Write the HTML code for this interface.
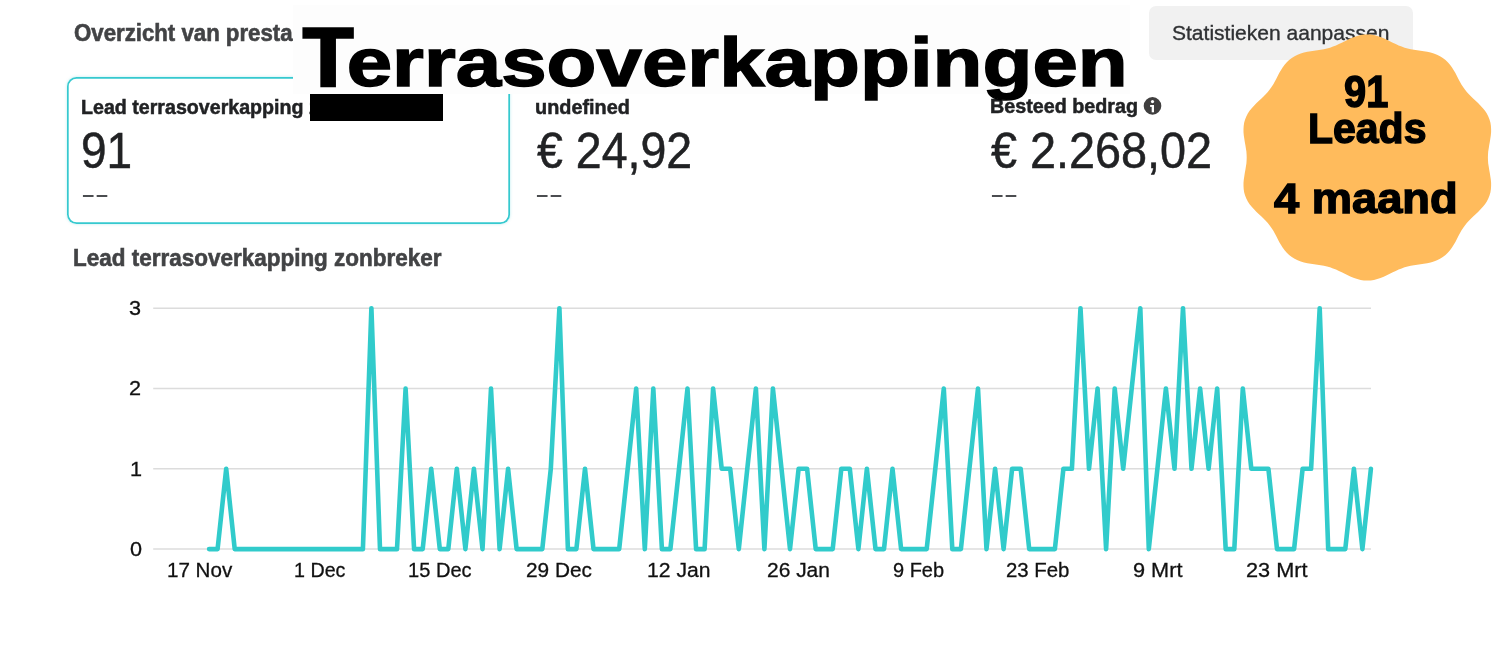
<!DOCTYPE html>
<html lang="nl">
<head>
<meta charset="utf-8">
<title>Terrasoverkappingen – Overzicht van prestaties</title>
<style>
*{margin:0;padding:0;box-sizing:border-box}
html,body{width:1500px;height:660px;background:#fff;overflow:hidden}
body{font-family:"Liberation Sans",sans-serif;position:relative}
.tx,.big{position:absolute;white-space:nowrap;line-height:1;transform-origin:0 0;display:block}
.card{position:absolute;left:67.3px;top:77.4px;width:442.6px;height:147px;border-radius:9.5px;box-shadow:inset 0 0 0 1.7px #36c9cf,0 0 3px rgba(47,199,205,.35)}
.btn{position:absolute;left:1149px;top:6px;width:264px;height:54px;border-radius:7px;background:#f1f1f1}
.whitebox{position:absolute;left:292.5px;top:5.2px;width:837.5px;height:88.5px;background:#fdfdfd}
.bar{position:absolute;left:310px;top:94px;width:133.3px;height:26.9px;background:#000}
.dash{color:#4b4d50;letter-spacing:-0.44px}
svg{position:absolute;left:0;top:0}
.big{font-weight:700;color:#000}
.title::first-letter{font-family:"DejaVu Sans Mono","Liberation Sans",sans-serif;font-size:1.185em;line-height:0;letter-spacing:-0.11em}
</style>
</head>
<body>
<main>
<header>
<div class="tx" id="t_over" style="left:74.00px;top:20.98px;font-size:24.0px;font-weight:700;color:#424345;-webkit-text-stroke:0.6px #424345;transform:scaleX(0.9257);">Overzicht van presta</div>
<div class="btn"></div>
<div class="tx" id="t_btn" style="left:1172.00px;top:23.49px;font-size:20.8px;font-weight:400;color:#2f3133;-webkit-text-stroke:0.35px #2f3133;transform:scaleX(1.0107);">Statistieken aanpassen</div>
</header>
<section class="metrics">
<div class="card"></div>
<div class="tx" id="t_lab1" style="left:81.00px;top:96.53px;font-size:20.4px;font-weight:700;color:#212224;-webkit-text-stroke:0.5px #212224;transform:scaleX(0.9625);">Lead terrasoverkapping zonbreker</div>
<div class="tx" id="t_val1" style="left:81.20px;top:126.15px;font-size:49.2px;font-weight:400;color:#212224;-webkit-text-stroke:0.5px #212224;transform:scaleX(0.9350);">91</div>
<div class="tx dash" style="left:80.57px;top:182.28px;font-size:25.0px;transform:scaleX(1.737)">--</div>
<div class="tx" id="t_lab2" style="left:535.00px;top:96.53px;font-size:20.4px;font-weight:700;color:#212224;-webkit-text-stroke:0.5px #212224;transform:scaleX(0.9735);">undefined</div>
<div class="tx" id="t_val2" style="left:537.00px;top:126.15px;font-size:49.2px;font-weight:400;color:#212224;-webkit-text-stroke:0.5px #212224;transform:scaleX(0.9456);">€ 24,92</div>
<div class="tx dash" style="left:534.87px;top:181.88px;font-size:25.0px;transform:scaleX(1.737)">--</div>
<div class="tx" id="t_lab3" style="left:990.00px;top:96.43px;font-size:20.4px;font-weight:700;color:#212224;-webkit-text-stroke:0.5px #212224;transform:scaleX(0.9677);">Besteed bedrag</div>
<svg class="info" width="1500" height="660" viewBox="0 0 1500 660"><circle cx="1152.5" cy="105.9" r="8.8" fill="#403f3f"/><circle cx="1152.5" cy="101.6" r="1.6" fill="#fff"/><rect x="1151.7" y="105" width="2.3" height="7.3" fill="#fff"/><rect x="1150.1" y="105" width="2" height="1.9" fill="#fff"/></svg>
<div class="tx" id="t_val3" style="left:991.00px;top:126.05px;font-size:49.2px;font-weight:400;color:#212224;-webkit-text-stroke:0.5px #212224;transform:scaleX(0.9508);">€ 2.268,02</div>
<div class="tx dash" style="left:989.87px;top:181.78px;font-size:25.0px;transform:scaleX(1.737)">--</div>
</section>
<section class="chart">
<div class="tx" id="t_chart" style="left:73.00px;top:245.65px;font-size:23.8px;font-weight:700;color:#424345;-webkit-text-stroke:0.6px #424345;transform:scaleX(0.9446);">Lead terrasoverkapping zonbreker</div>
<svg width="1500" height="660" viewBox="0 0 1500 660">
<line x1="153.2" x2="1371" y1="549.1" y2="549.1" stroke="#dcdcdc" stroke-width="1.5"/>
<line x1="153.2" x2="1371" y1="468.8" y2="468.8" stroke="#dcdcdc" stroke-width="1.5"/>
<line x1="153.2" x2="1371" y1="388.5" y2="388.5" stroke="#dcdcdc" stroke-width="1.5"/>
<line x1="153.2" x2="1371" y1="308.2" y2="308.2" stroke="#dcdcdc" stroke-width="1.5"/>
<polyline points="209.1,549.1 217.6,549.1 226.2,468.8 234.7,549.1 243.3,549.1 251.8,549.1 260.4,549.1 268.9,549.1 277.4,549.1 286.0,549.1 294.5,549.1 303.1,549.1 311.6,549.1 320.2,549.1 328.7,549.1 337.2,549.1 345.8,549.1 354.3,549.1 362.9,549.1 371.4,308.2 380.0,549.1 388.5,549.1 397.0,549.1 405.6,388.5 414.1,549.1 422.7,549.1 431.2,468.8 439.8,549.1 448.3,549.1 456.8,468.8 465.4,549.1 473.9,468.8 482.5,549.1 491.0,388.5 499.6,549.1 508.1,468.8 516.6,549.1 525.2,549.1 533.7,549.1 542.3,549.1 550.8,468.8 559.4,308.2 567.9,549.1 576.4,549.1 585.0,468.8 593.5,549.1 602.1,549.1 610.6,549.1 619.2,549.1 627.7,468.8 636.2,388.5 644.8,549.1 653.3,388.5 661.9,549.1 670.4,549.1 679.0,468.8 687.5,388.5 696.1,549.1 704.6,549.1 713.1,388.5 721.7,468.8 730.2,468.8 738.8,549.1 747.3,468.8 755.9,388.5 764.4,549.1 772.9,388.5 781.5,468.8 790.0,549.1 798.6,468.8 807.1,468.8 815.7,549.1 824.2,549.1 832.7,549.1 841.3,468.8 849.8,468.8 858.4,549.1 866.9,468.8 875.5,549.1 884.0,549.1 892.5,468.8 901.1,549.1 909.6,549.1 918.2,549.1 926.7,549.1 935.3,468.8 943.8,388.5 952.3,549.1 960.9,549.1 969.4,468.8 978.0,388.5 986.5,549.1 995.1,468.8 1003.6,549.1 1012.1,468.8 1020.7,468.8 1029.2,549.1 1037.8,549.1 1046.3,549.1 1054.9,549.1 1063.4,468.8 1071.9,468.8 1080.5,308.2 1089.0,468.8 1097.6,388.5 1106.1,549.1 1114.7,388.5 1123.2,468.8 1131.7,388.5 1140.3,308.2 1148.8,549.1 1157.4,468.8 1165.9,388.5 1174.5,468.8 1183.0,308.2 1191.5,468.8 1200.1,388.5 1208.6,468.8 1217.2,388.5 1225.7,549.1 1234.3,549.1 1242.8,388.5 1251.3,468.8 1259.9,468.8 1268.4,468.8 1277.0,549.1 1285.5,549.1 1294.1,549.1 1302.6,468.8 1311.1,468.8 1319.7,308.2 1328.2,549.1 1336.8,549.1 1345.3,549.1 1353.9,468.8 1362.4,549.1 1370.9,468.8" fill="none" stroke="#31cbcb" stroke-width="4.6" stroke-linejoin="round" stroke-linecap="round"/>
</svg>
<div class="tx" id="t_y3" style="left:129.30px;top:297.02px;font-size:21.0px;font-weight:400;color:#111;-webkit-text-stroke:0.3px #111;transform:scaleX(1.0300);">3</div>
<div class="tx" id="t_y2" style="left:129.30px;top:377.32px;font-size:21.0px;font-weight:400;color:#111;-webkit-text-stroke:0.3px #111;transform:scaleX(1.0300);">2</div>
<div class="tx" id="t_y1" style="left:130.00px;top:457.62px;font-size:21.0px;font-weight:400;color:#111;-webkit-text-stroke:0.3px #111;transform:scaleX(1.0300);">1</div>
<div class="tx" id="t_y0" style="left:129.60px;top:537.92px;font-size:21.0px;font-weight:400;color:#111;-webkit-text-stroke:0.3px #111;transform:scaleX(1.0300);">0</div>
<div class="tx" id="t_x0" style="left:167.00px;top:559.95px;font-size:20.5px;font-weight:400;color:#111;-webkit-text-stroke:0.3px #111;transform:scaleX(1.0039);">17 Nov</div>
<div class="tx" id="t_x1" style="left:294.00px;top:559.95px;font-size:20.5px;font-weight:400;color:#111;-webkit-text-stroke:0.3px #111;transform:scaleX(0.9602);">1 Dec</div>
<div class="tx" id="t_x2" style="left:408.00px;top:559.95px;font-size:20.5px;font-weight:400;color:#111;-webkit-text-stroke:0.3px #111;transform:scaleX(0.9790);">15 Dec</div>
<div class="tx" id="t_x3" style="left:526.00px;top:559.95px;font-size:20.5px;font-weight:400;color:#111;-webkit-text-stroke:0.3px #111;transform:scaleX(1.0142);">29 Dec</div>
<div class="tx" id="t_x4" style="left:647.00px;top:559.95px;font-size:20.5px;font-weight:400;color:#111;-webkit-text-stroke:0.3px #111;transform:scaleX(1.0312);">12 Jan</div>
<div class="tx" id="t_x5" style="left:767.00px;top:559.95px;font-size:20.5px;font-weight:400;color:#111;-webkit-text-stroke:0.3px #111;transform:scaleX(1.0224);">26 Jan</div>
<div class="tx" id="t_x6" style="left:893.00px;top:559.95px;font-size:20.5px;font-weight:400;color:#111;-webkit-text-stroke:0.3px #111;transform:scaleX(0.9736);">9 Feb</div>
<div class="tx" id="t_x7" style="left:1006.00px;top:559.95px;font-size:20.5px;font-weight:400;color:#111;-webkit-text-stroke:0.3px #111;transform:scaleX(0.9940);">23 Feb</div>
<div class="tx" id="t_x8" style="left:1133.00px;top:559.95px;font-size:20.5px;font-weight:400;color:#111;-webkit-text-stroke:0.3px #111;transform:scaleX(1.0582);">9 Mrt</div>
<div class="tx" id="t_x9" style="left:1246.00px;top:559.95px;font-size:20.5px;font-weight:400;color:#111;-webkit-text-stroke:0.3px #111;transform:scaleX(1.0581);">23 Mrt</div>
</section>
<div class="overlay">
<div class="whitebox"></div>
<div class="bar"></div>
<svg class="badge" width="1500" height="660" viewBox="0 0 1500 660"><path d="M1487.9,157.5 L1488.0,154.5 L1488.2,151.4 L1488.7,148.4 L1489.2,145.2 L1489.8,142.1 L1490.3,138.8 L1490.8,135.6 L1491.1,132.3 L1491.1,129.0 L1490.9,125.8 L1490.4,122.6 L1489.5,119.5 L1488.3,116.5 L1486.8,113.6 L1485.0,110.8 L1482.9,108.2 L1480.6,105.7 L1478.3,103.3 L1475.9,101.0 L1473.4,98.8 L1471.1,96.6 L1468.9,94.3 L1466.8,92.0 L1464.9,89.6 L1463.1,87.1 L1461.4,84.5 L1459.9,81.8 L1458.4,78.9 L1456.9,76.1 L1455.4,73.1 L1453.7,70.2 L1452.0,67.4 L1450.0,64.7 L1447.8,62.2 L1445.5,59.9 L1442.8,57.9 L1440.0,56.2 L1437.0,54.7 L1433.8,53.5 L1430.6,52.5 L1427.2,51.8 L1423.8,51.2 L1420.5,50.7 L1417.2,50.2 L1413.9,49.8 L1410.7,49.2 L1407.6,48.5 L1404.6,47.7 L1401.6,46.6 L1398.6,45.4 L1395.7,44.1 L1392.8,42.7 L1389.8,41.2 L1386.8,39.7 L1383.7,38.2 L1380.5,37.0 L1377.3,35.9 L1374.0,35.1 L1370.7,34.6 L1367.3,34.4 L1363.9,34.6 L1360.6,35.1 L1357.3,35.9 L1354.1,37.0 L1350.9,38.2 L1347.8,39.7 L1344.8,41.2 L1341.8,42.7 L1338.9,44.1 L1336.0,45.4 L1333.0,46.6 L1330.0,47.7 L1327.0,48.5 L1323.9,49.2 L1320.7,49.8 L1317.4,50.2 L1314.1,50.7 L1310.8,51.2 L1307.4,51.8 L1304.0,52.5 L1300.8,53.5 L1297.6,54.7 L1294.6,56.2 L1291.8,57.9 L1289.1,59.9 L1286.8,62.2 L1284.6,64.7 L1282.6,67.4 L1280.9,70.2 L1279.2,73.1 L1277.7,76.1 L1276.2,78.9 L1274.7,81.8 L1273.2,84.5 L1271.5,87.1 L1269.7,89.6 L1267.8,92.0 L1265.7,94.3 L1263.5,96.6 L1261.2,98.8 L1258.7,101.0 L1256.3,103.3 L1254.0,105.7 L1251.7,108.2 L1249.6,110.8 L1247.8,113.6 L1246.3,116.5 L1245.1,119.5 L1244.2,122.6 L1243.7,125.8 L1243.5,129.0 L1243.5,132.3 L1243.8,135.6 L1244.3,138.8 L1244.8,142.1 L1245.4,145.2 L1245.9,148.4 L1246.4,151.4 L1246.6,154.5 L1246.7,157.5 L1246.6,160.5 L1246.4,163.6 L1245.9,166.6 L1245.4,169.8 L1244.8,172.9 L1244.3,176.2 L1243.8,179.4 L1243.5,182.7 L1243.5,186.0 L1243.7,189.2 L1244.2,192.4 L1245.1,195.5 L1246.3,198.5 L1247.8,201.4 L1249.6,204.2 L1251.7,206.8 L1254.0,209.3 L1256.3,211.7 L1258.7,214.0 L1261.2,216.2 L1263.5,218.4 L1265.7,220.7 L1267.8,223.0 L1269.7,225.4 L1271.5,227.9 L1273.2,230.5 L1274.7,233.2 L1276.2,236.1 L1277.7,238.9 L1279.2,241.9 L1280.9,244.8 L1282.6,247.6 L1284.6,250.3 L1286.8,252.8 L1289.1,255.1 L1291.8,257.1 L1294.6,258.8 L1297.6,260.3 L1300.8,261.5 L1304.0,262.5 L1307.4,263.2 L1310.8,263.8 L1314.1,264.3 L1317.4,264.8 L1320.7,265.2 L1323.9,265.8 L1327.0,266.5 L1330.0,267.3 L1333.0,268.4 L1336.0,269.6 L1338.9,270.9 L1341.8,272.3 L1344.8,273.8 L1347.8,275.3 L1350.9,276.8 L1354.1,278.0 L1357.3,279.1 L1360.6,279.9 L1363.9,280.4 L1367.3,280.6 L1370.7,280.4 L1374.0,279.9 L1377.3,279.1 L1380.5,278.0 L1383.7,276.8 L1386.8,275.3 L1389.8,273.8 L1392.8,272.3 L1395.7,270.9 L1398.6,269.6 L1401.6,268.4 L1404.6,267.3 L1407.6,266.5 L1410.7,265.8 L1413.9,265.2 L1417.2,264.8 L1420.5,264.3 L1423.8,263.8 L1427.2,263.2 L1430.6,262.5 L1433.8,261.5 L1437.0,260.3 L1440.0,258.8 L1442.8,257.1 L1445.5,255.1 L1447.8,252.8 L1450.0,250.3 L1452.0,247.6 L1453.7,244.8 L1455.4,241.9 L1456.9,238.9 L1458.4,236.1 L1459.9,233.2 L1461.4,230.5 L1463.1,227.9 L1464.9,225.4 L1466.8,223.0 L1468.9,220.7 L1471.1,218.4 L1473.4,216.2 L1475.9,214.0 L1478.3,211.7 L1480.6,209.3 L1482.9,206.8 L1485.0,204.2 L1486.8,201.4 L1488.3,198.5 L1489.5,195.5 L1490.4,192.4 L1490.9,189.2 L1491.1,186.0 L1491.1,182.7 L1490.8,179.4 L1490.3,176.2 L1489.8,172.9 L1489.2,169.8 L1488.7,166.6 L1488.2,163.6 L1488.0,160.5Z" fill="#ffbb5c"/></svg>
<div class="big title" id="b_title" style="left:299.00px;top:28.04px;font-size:68.0px;font-weight:700;color:#000;-webkit-text-stroke:1.4px #000;transform:scaleX(1.2016);">Terrasoverkappingen</div>
<div class="big" id="b_91" style="left:1344.00px;top:70.78px;font-size:43.5px;font-weight:700;color:#000;-webkit-text-stroke:1.4px #000;transform:scaleX(0.9150);">91</div>
<div class="big" id="b_leads" style="left:1308.00px;top:106.50px;font-size:43.0px;font-weight:700;color:#000;-webkit-text-stroke:1.4px #000;transform:scaleX(0.9531);">Leads</div>
<div class="big" id="b_maand" style="left:1274.00px;top:176.50px;font-size:43.0px;font-weight:700;color:#000;-webkit-text-stroke:1.4px #000;transform:scaleX(1.0527);">4 maand</div>
</div>
</main>
</body>
</html>
